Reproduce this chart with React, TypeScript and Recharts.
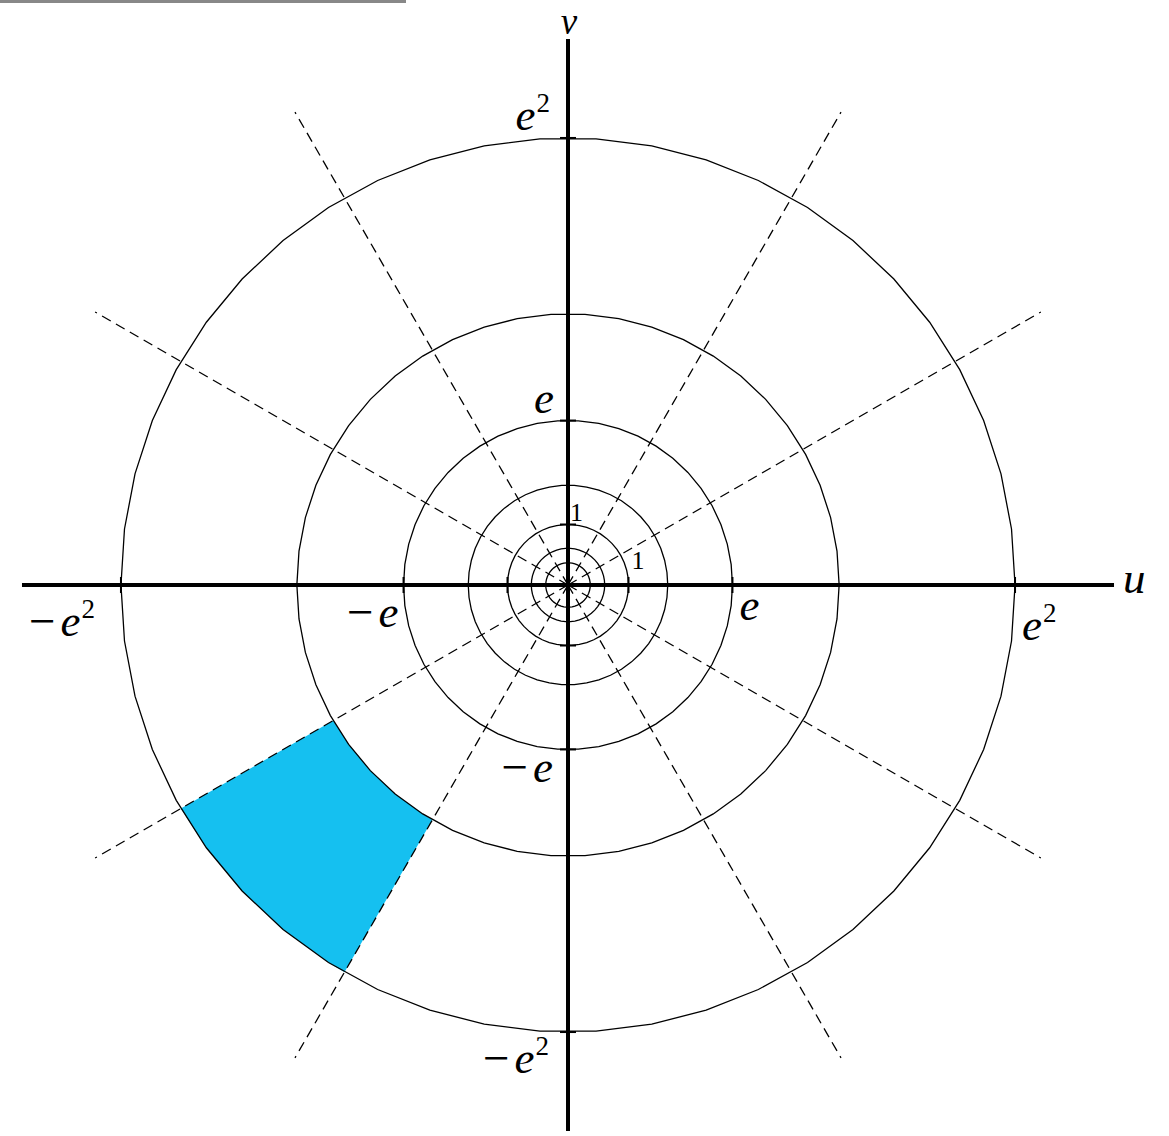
import React from "react";
import { ScatterChart, Scatter, XAxis, YAxis } from "recharts";

const E = Math.E;

// circles |w| = e^k
const circleExponents = [-1, -0.5, 0, 0.5, 1, 1.5, 2];
// dashed rays arg w = angle (degrees)
const rayAngles = [30, 60, 120, 150, 210, 240, 300, 330];
const rayExponent = 2.2;
const axisExponent = 2.2;
// shaded patch: e^1.5 < |w| < e^2, 210deg < arg w < 240deg
const patchExponents = [1.5, 2];
const patchAngles = [210, 240];
// tick marks on both axes
const tickValues = [-E * E, -E, -1, 1, E, E * E];
// tick labels
const uLabelValues = [-E * E, -E, 1, E, E * E];
const uLabelTexts = ["−e^2", "−e", "1", "e", "e^2"];
const vLabelValues = [E * E, E, 1, -E, -E * E];
const vLabelTexts = ["e^2", "e", "1", "−e", "−e^2"];

const W = 1169;
const H = 1136;
const PX = 60.5; // pixels per unit
const CX = 568;
const CY = 585;
const XMIN = -CX / PX;
const XMAX = (W - CX) / PX;
const YMIN = -(H - CY) / PX;
const YMAX = CY / PX;
const SEGMENTS = 50;
const FONT = "'Liberation Serif', 'Times New Roman', serif";

const polar = (r: number, deg: number) => ({
  x: r * Math.cos((deg * Math.PI) / 180),
  y: r * Math.sin((deg * Math.PI) / 180),
});

const circlePoints = (r: number) =>
  Array.from({ length: SEGMENTS + 1 }, (_, i) => polar(r, (i * 360) / SEGMENTS));

const arcPoints = (r: number, a0: number, a1: number) => {
  const step = 360 / SEGMENTS;
  const mids: number[] = [];
  for (let a = Math.ceil(a0 / step + 1e-9) * step; a < a1 - 1e-9; a += step) mids.push(a);
  return [a0, ...mids, a1].map((a) => polar(r, a));
};

// label offsets in px from the tick point: [dx, dy, anchor]
const U_OFFSETS: Record<string, [number, number, string]> = {
  "−e^2": [-26, 51, "end"],
  "−e": [-5, 42, "end"],
  "1": [3, -16, "start"],
  "e": [7, 35, "start"],
  "e^2": [7, 55, "start"],
};
const V_OFFSETS: Record<string, [number, number, string]> = {
  "e^2": [-18, -8, "end"],
  "e": [-14, -8, "end"],
  "1": [2, -4, "start"],
  "−e": [-15, 33, "end"],
  "−e^2": [-19, 41, "end"],
};

function MathLabel({
  x,
  y,
  text,
  anchor,
  size = 45,
}: {
  x: number;
  y: number;
  text: string;
  anchor: string;
  size?: number;
}) {
  const minus = text.startsWith("−");
  const body = minus ? text.slice(1) : text;
  const [base, sup] = body.split("^");
  const digit = /^[0-9]+$/.test(base);
  return (
    <text x={x} y={y} textAnchor={anchor as any} fontFamily={FONT} fill="#000">
      {minus && (
        <tspan fontSize={47} dy={1}>
          −
        </tspan>
      )}
      <tspan
        dx={minus ? 5 : 0}
        dy={minus ? -1 : 0}
        fontSize={digit ? 26 : size}
        fontStyle={digit ? "normal" : "italic"}
      >
        {base}
      </tspan>
      {sup && (
        <tspan dx={1} dy={-18} fontSize={27}>
          {sup}
        </tspan>
      )}
    </text>
  );
}

const noDot = () => <g />;

export default function App() {
  const axisEnd = Math.exp(axisExponent);
  const rayEnd = Math.exp(rayExponent);
  const tickHalf = 8 / PX;

  const patch = [
    ...arcPoints(Math.exp(patchExponents[1]), patchAngles[0], patchAngles[1]),
    ...arcPoints(Math.exp(patchExponents[0]), patchAngles[0], patchAngles[1]).reverse(),
  ];

  return (
    <div style={{ position: "absolute", left: 0, top: 0, width: W, height: H, background: "#fff" }}>
      <div style={{ position: "absolute", left: 0, top: 0, width: 406, height: 3, background: "#888" }} />
      <ScatterChart width={W} height={H} margin={{ top: 0, right: 0, bottom: 0, left: 0 }}>
        <XAxis type="number" dataKey="x" domain={[XMIN, XMAX]} allowDataOverflow hide />
        <YAxis type="number" dataKey="y" domain={[YMIN, YMAX]} allowDataOverflow hide />

        <Scatter
          data={patch}
          isAnimationActive={false}
          shape={noDot}
          line={(p: any) => (
            <path
              d={p.points.map((pt: any, i: number) => `${i ? "L" : "M"}${pt.x},${pt.y}`).join("") + "Z"}
              fill="#15c0f0"
              stroke="none"
            />
          )}
        />

        {circleExponents.map((k) => (
          <Scatter
            key={`c${k}`}
            data={circlePoints(Math.exp(k))}
            isAnimationActive={false}
            shape={noDot}
            line={{ stroke: "#000", strokeWidth: 1.3, fill: "none" }}
          />
        ))}

        {rayAngles.map((a) => (
          <Scatter
            key={`r${a}`}
            data={[{ x: 0, y: 0 }, polar(rayEnd, a)]}
            isAnimationActive={false}
            shape={noDot}
            line={{ stroke: "#000", strokeWidth: 1.3, strokeDasharray: "10 6" }}
          />
        ))}

        <Scatter
          data={[{ x: -axisEnd, y: 0 }, { x: axisEnd, y: 0 }]}
          isAnimationActive={false}
          shape={noDot}
          line={{ stroke: "#000", strokeWidth: 4 }}
        />
        <Scatter
          data={[{ x: 0, y: -axisEnd }, { x: 0, y: axisEnd }]}
          isAnimationActive={false}
          shape={noDot}
          line={{ stroke: "#000", strokeWidth: 4 }}
        />

        {tickValues.map((t) => (
          <Scatter
            key={`tu${t}`}
            data={[{ x: t, y: -tickHalf }, { x: t, y: tickHalf }]}
            isAnimationActive={false}
            shape={noDot}
            line={{ stroke: "#000", strokeWidth: 2 }}
          />
        ))}
        {tickValues.map((t) => (
          <Scatter
            key={`tv${t}`}
            data={[{ x: -tickHalf, y: t }, { x: tickHalf, y: t }]}
            isAnimationActive={false}
            shape={noDot}
            line={{ stroke: "#000", strokeWidth: 2 }}
          />
        ))}

        {uLabelValues.map((v, i) => {
          const [dx, dy, anchor] = U_OFFSETS[uLabelTexts[i]];
          return (
            <Scatter
              key={`lu${i}`}
              data={[{ x: v, y: 0 }]}
              isAnimationActive={false}
              shape={(p: any) => <MathLabel x={p.cx + dx} y={p.cy + dy} text={uLabelTexts[i]} anchor={anchor} />}
            />
          );
        })}
        {vLabelValues.map((v, i) => {
          const [dx, dy, anchor] = V_OFFSETS[vLabelTexts[i]];
          return (
            <Scatter
              key={`lv${i}`}
              data={[{ x: 0, y: v }]}
              isAnimationActive={false}
              shape={(p: any) => <MathLabel x={p.cx + dx} y={p.cy + dy} text={vLabelTexts[i]} anchor={anchor} />}
            />
          );
        })}

        <Scatter
          data={[{ x: axisEnd, y: 0 }]}
          isAnimationActive={false}
          shape={(p: any) => <MathLabel x={p.cx + 9} y={p.cy + 8} text="u" anchor="start" />}
        />
        <Scatter
          data={[{ x: 0, y: axisEnd }]}
          isAnimationActive={false}
          shape={(p: any) => <MathLabel x={p.cx + 1} y={p.cy - 5} text="v" anchor="middle" size={37} />}
        />
      </ScatterChart>
    </div>
  );
}
